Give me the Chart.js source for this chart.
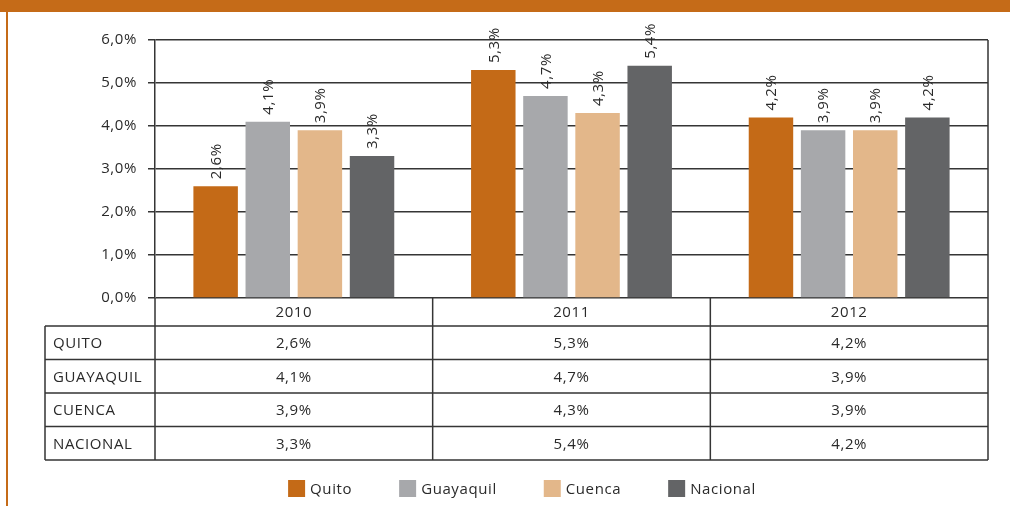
<!DOCTYPE html>
<html><head><meta charset="utf-8">
<script src="https://cdn.jsdelivr.net/npm/chart.js@4/dist/chart.umd.min.js"></script>
<style>html,body{margin:0;padding:0;background:#fff;overflow:hidden}</style>
</head><body>
<canvas id="c" width="1010" height="506" style="display:block;width:1010px;height:506px"></canvas>
<script>
const categories = ['2010', '2011', '2012'];
const seriesNames = ['Quito', 'Guayaquil', 'Cuenca', 'Nacional'];
const tableNames = ['QUITO', 'GUAYAQUIL', 'CUENCA', 'NACIONAL'];
const quito = [2.6, 5.3, 4.2];
const guayaquil = [4.1, 4.7, 3.9];
const cuenca = [3.9, 4.3, 3.9];
const nacional = [3.3, 5.4, 4.2];
const yMin = 0, yMax = 6, yStep = 1;
const colors = ['#C46A17', '#A7A8AB', '#E3B78A', '#636466'];

const FONT = '"Open Sans", "Noto Sans", sans-serif';
const TEXT = '#2a2a2a';
const LINE = '#353535';
const LS = '0.6px';
const fmt = v => v.toFixed(1).replace('.', ',') + '%';

const seriesValues = [quito, guayaquil, cuenca, nacional];

const decor = {
  id: 'decor',
  beforeDraw(chart) {
    const ctx = chart.ctx;
    ctx.letterSpacing = LS;
    ctx.save();
    ctx.fillStyle = '#C56B18';
    ctx.fillRect(0, 0, chart.width, 12);
    ctx.fillRect(6, 0, 2, chart.height);
    ctx.restore();
  },
  afterDatasetsDraw(chart) {
    const ctx = chart.ctx;
    chart.data.datasets.forEach((ds, i) => {
      const meta = chart.getDatasetMeta(i);
      meta.data.forEach((bar, j) => {
        ctx.save();
        ctx.letterSpacing = LS;
        ctx.translate(bar.x, bar.y - 7);
        ctx.rotate(-Math.PI / 2);
        ctx.font = '15px ' + FONT;
        ctx.fillStyle = TEXT;
        ctx.textAlign = 'left';
        ctx.textBaseline = 'middle';
        ctx.fillText(fmt(ds.data[j]), 0, 1);
        ctx.restore();
      });
    });
  },
  afterDraw(chart) {
    const ctx = chart.ctx;
    const xs = chart.scales.x;
    const ca = chart.chartArea;
    const centers = categories.map((c, i) => xs.getPixelForValue(i));
    const bounds = [ca.left];
    for (let i = 0; i < centers.length - 1; i++) bounds.push((centers[i] + centers[i + 1]) / 2);
    bounds.push(ca.right);
    const tableLeft = 45;
    const headTop = ca.bottom;
    const rowTop = ca.bottom + 28;
    const rowH = 33.5;
    const tableBottom = rowTop + rowH * tableNames.length;

    ctx.save();
    ctx.letterSpacing = LS;
    ctx.strokeStyle = LINE;
    ctx.lineWidth = 1.5;
    ctx.beginPath();
    for (let r = 0; r <= tableNames.length; r++) {
      const y = rowTop + r * rowH;
      ctx.moveTo(tableLeft, y); ctx.lineTo(ca.right, y);
    }
    ctx.moveTo(tableLeft, rowTop); ctx.lineTo(tableLeft, tableBottom);
    ctx.moveTo(ca.left, headTop); ctx.lineTo(ca.left, tableBottom);
    for (let i = 1; i < bounds.length - 1; i++) {
      ctx.moveTo(bounds[i], headTop); ctx.lineTo(bounds[i], tableBottom);
    }
    ctx.moveTo(ca.right, ca.top); ctx.lineTo(ca.right, tableBottom);
    ctx.stroke();

    ctx.font = '15px ' + FONT;
    ctx.fillStyle = TEXT;
    ctx.textBaseline = 'middle';
    ctx.textAlign = 'center';
    categories.forEach((c, i) => ctx.fillText(c, centers[i], headTop + 14.5));
    tableNames.forEach((n, r) => {
      const y = rowTop + r * rowH + rowH / 2 + 1;
      ctx.textAlign = 'left';
      ctx.fillText(n, tableLeft + 8, y);
      ctx.textAlign = 'center';
      seriesValues[r].forEach((v, i) => ctx.fillText(fmt(v), centers[i], y));
    });

    const box = 17, gapTxt = 5, gapItem = 47;
    const widths = seriesNames.map(n => box + gapTxt + ctx.measureText(n).width);
    const total = widths.reduce((a, b) => a + b, 0) + gapItem * (seriesNames.length - 1);
    let x = 522 - total / 2;
    const ly = 480;
    seriesNames.forEach((n, i) => {
      ctx.fillStyle = colors[i];
      ctx.fillRect(x, ly, box, box);
      ctx.fillStyle = TEXT;
      ctx.textAlign = 'left';
      ctx.fillText(n, x + box + gapTxt, ly + box / 2 + 1);
      x += widths[i] + gapItem;
    });
    ctx.restore();
  }
};

new Chart(document.getElementById('c'), {
  type: 'bar',
  data: {
    labels: categories,
    datasets: seriesNames.map((n, i) => ({
      label: n,
      data: seriesValues[i],
      backgroundColor: colors[i],
      borderWidth: 0,
      categoryPercentage: 0.751,
      barPercentage: 0.853
    }))
  },
  options: {
    responsive: false,
    animation: false,
    devicePixelRatio: 1,
    layout: { padding: { top: 40, right: 22, left: 0, bottom: 0 } },
    plugins: { legend: { display: false }, tooltip: { enabled: false }, title: { display: false } },
    scales: {
      x: {
        ticks: { display: false },
        grid: { display: false },
        border: { display: false },
        afterFit: s => { s.height = 208; }
      },
      y: {
        min: yMin, max: yMax,
        ticks: {
          stepSize: yStep,
          padding: 11,
          color: TEXT,
          font: { family: FONT, size: 15 },
          callback: v => fmt(v)
        },
        grid: { color: LINE, lineWidth: 1.5, tickLength: 7, drawTicks: true },
        border: { display: true, color: LINE, width: 1.5 },
        afterFit: s => { s.width = 155; }
      }
    }
  },
  plugins: [decor]
});
</script>
</body></html>
